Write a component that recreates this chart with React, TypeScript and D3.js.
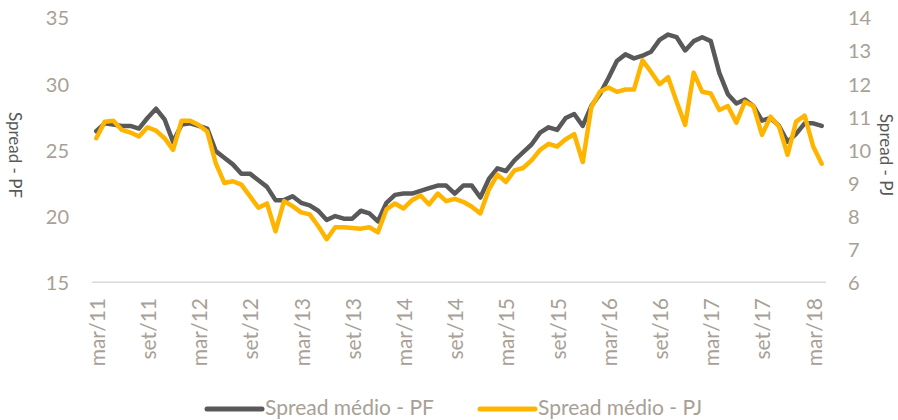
import React from "react";
import * as d3 from "d3";

const monthNames = ["jan", "fev", "mar", "abr", "mai", "jun", "jul", "ago", "set", "out", "nov", "dez"];
// Monthly categories mar/11 .. abr/18
const categories: string[] = [];
for (let y = 11; y <= 18; y++) {
  for (let m = 0; m < 12; m++) {
    if (y === 11 && m < 2) continue;
    if (y === 18 && m > 3) continue;
    categories.push(`${monthNames[m]}/${y}`);
  }
}

const tickLabels = [
  "mar/11", "set/11", "mar/12", "set/12", "mar/13", "set/13", "mar/14", "set/14",
  "mar/15", "set/15", "mar/16", "set/16", "mar/17", "set/17", "mar/18",
];

const spreadPF = [
  26.4, 27.0, 26.9, 26.8, 26.8, 26.6, 27.4, 28.1, 27.3, 25.6,
  26.9, 27.0, 26.8, 26.6, 24.9, 24.4, 23.9, 23.2, 23.2, 22.7,
  22.2, 21.2, 21.2, 21.5, 21.0, 20.8, 20.4, 19.7, 20.0, 19.8,
  19.8, 20.4, 20.2, 19.6, 21.0, 21.6, 21.7, 21.7, 21.9, 22.1,
  22.3, 22.3, 21.7, 22.3, 22.3, 21.4, 22.8, 23.6, 23.4, 24.2,
  24.8, 25.4, 26.3, 26.7, 26.5, 27.4, 27.7, 26.8, 28.3, 29.2,
  30.4, 31.7, 32.2, 31.9, 32.1, 32.4, 33.3, 33.7, 33.5, 32.5,
  33.2, 33.5, 33.2, 30.8, 29.2, 28.5, 28.8, 28.3, 27.2, 27.4,
  26.8, 25.6, 26.2, 27.0, 27.0, 26.8,
];

const spreadPJ = [
  10.35, 10.85, 10.88, 10.6, 10.52, 10.4, 10.68, 10.58, 10.35, 10.0,
  10.88, 10.88, 10.75, 10.55, 9.6, 9.0, 9.05, 8.95, 8.6, 8.25,
  8.38, 7.54, 8.45, 8.3, 8.11, 8.05, 7.7, 7.3, 7.66, 7.66,
  7.64, 7.62, 7.66, 7.51, 8.2, 8.38, 8.23, 8.48, 8.62, 8.35,
  8.68, 8.45, 8.52, 8.43, 8.28, 8.08, 8.8, 9.25, 9.03, 9.38,
  9.45, 9.68, 10.0, 10.18, 10.1, 10.32, 10.47, 9.63, 11.28, 11.75,
  11.88, 11.75, 11.82, 11.82, 12.7, 12.35, 11.98, 12.19, 11.45, 10.75,
  12.33, 11.75, 11.7, 11.2, 11.32, 10.82, 11.45, 11.32, 10.45, 11.0,
  10.7, 9.85, 10.85, 11.03, 10.1, 9.58,
];

const leftTicks = [15, 20, 25, 30, 35];
const rightTicks = [6, 7, 8, 9, 10, 11, 12, 13, 14];

const seriesNames = ["Spread médio - PF", "Spread médio - PJ"];
const seriesColors = ["#595959", "#FFB500"];

const W = 898;
const H = 420;
const plotLeft = 92;
const plotRight = 826;
const plotTop = 17.3;
const plotBottom = 282.3;
const tickColor = "#A8A096";
const font = "Lato, 'Noto Sans', sans-serif";

export default function App() {
  const x = d3.scaleBand<string>().domain(categories).range([plotLeft, plotRight]).padding(0);
  const cx = (c: string) => (x(c) as number) + x.bandwidth() / 2;
  const yL = d3.scaleLinear().domain([15, 35]).range([plotBottom, plotTop]);
  const yR = d3.scaleLinear().domain([6, 14]).range([plotBottom, plotTop]);

  const linePF = d3
    .line<number>()
    .x((_, i) => cx(categories[i]))
    .y((d) => yL(d));
  const linePJ = d3
    .line<number>()
    .x((_, i) => cx(categories[i]))
    .y((d) => yR(d));

  return (
    <div style={{ position: "fixed", left: 0, top: 0, width: W, height: H, background: "#fff" }}>
      <svg width={W} height={H} style={{ display: "block" }} fontFamily={font}>
        <rect width={W} height={H} fill="#fff" />
        {/* x axis line */}
        <line x1={plotLeft} x2={plotRight} y1={plotBottom} y2={plotBottom} stroke="#D9D9D9" strokeWidth={1.5} />
        {/* left ticks */}
        {leftTicks.map((t) => (
          <text key={"l" + t} x={69} y={yL(t)} textAnchor="end" dominantBaseline="central" fontSize={20} fill={tickColor}>
            {t}
          </text>
        ))}
        {/* right ticks */}
        {rightTicks.map((t) => (
          <text key={"r" + t} x={848} y={yR(t)} textAnchor="start" dominantBaseline="central" fontSize={20} fill={tickColor}>
            {t}
          </text>
        ))}
        {/* x tick labels */}
        {tickLabels.map((t) => (
          <text
            key={"x" + t}
            transform={`translate(${cx(t)},298) rotate(-90)`}
            textAnchor="end"
            dominantBaseline="central"
            fontSize={21}
            fill={tickColor}
          >
            {t}
          </text>
        ))}
        {/* axis titles */}
        <text transform={`translate(15,155) rotate(90)`} textAnchor="middle" dominantBaseline="central" fontSize={17} fill="#595959">
          Spread - PF
        </text>
        <text transform={`translate(886,155) rotate(90)`} textAnchor="middle" dominantBaseline="central" fontSize={17} fill="#595959">
          Spread - PJ
        </text>
        {/* lines */}
        <path d={linePF(spreadPF) || ""} fill="none" stroke={seriesColors[0]} strokeWidth={4.5} strokeLinejoin="round" strokeLinecap="round" />
        <path d={linePJ(spreadPJ) || ""} fill="none" stroke={seriesColors[1]} strokeWidth={4.5} strokeLinejoin="round" strokeLinecap="round" />
        {/* legend */}
        {seriesNames.map((n, i) => {
          const lx = i === 0 ? 207 : 480;
          return (
            <g key={n}>
              <line x1={lx} x2={lx + 55} y1={409} y2={409} stroke={seriesColors[i]} strokeWidth={5} strokeLinecap="round" />
              <text x={lx + 58} y={406} dominantBaseline="central" fontSize={21} fill={tickColor}>
                {n}
              </text>
            </g>
          );
        })}
      </svg>
    </div>
  );
}
